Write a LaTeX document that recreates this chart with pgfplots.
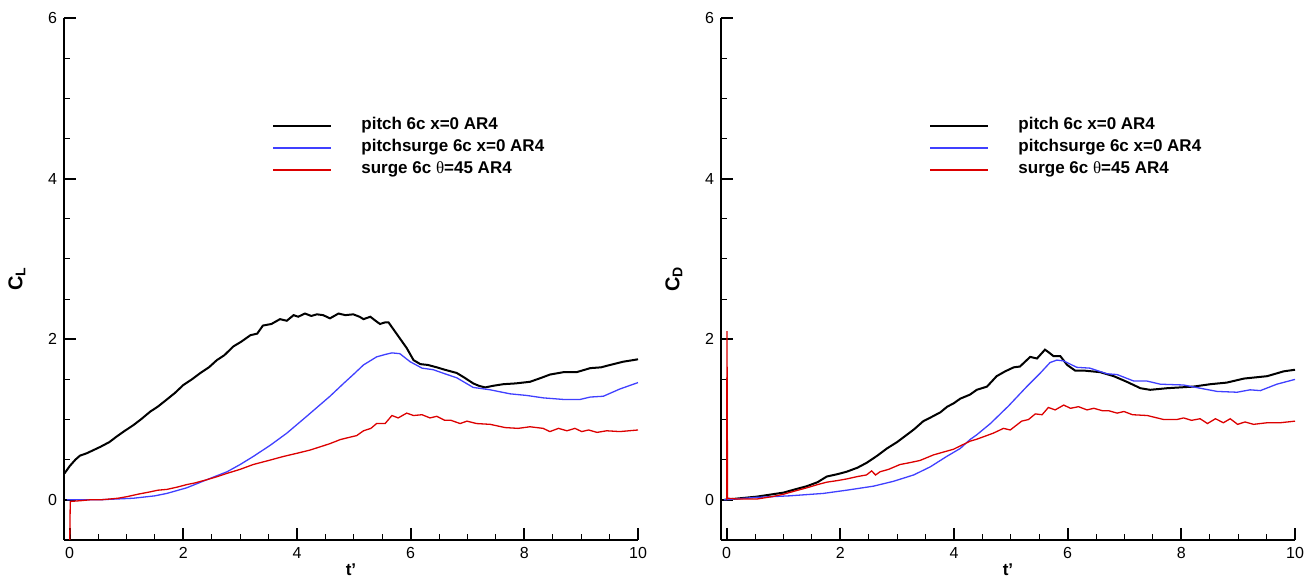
\documentclass[border=0pt]{standalone}
\usepackage{fontspec}
\setmainfont{Liberation Sans}
\newfontfamily\serif{Liberation Serif}
\usepackage{pgfplots}
\pgfplotsset{compat=1.18}
\definecolor{cblue}{RGB}{64,64,255}
\definecolor{cred}{RGB}{220,0,0}
\pgfplotsset{
 myax/.style={
  width=287pt, height=261pt, scale only axis,
  xmin=-0.1, xmax=10, ymin=-0.5, ymax=6,
  axis x line=bottom, axis y line=left,
  axis line style={-, line width=1pt},
  xtick={0,2,4,6,8,10}, ytick={0,2,4,6},
  minor x tick num=3, minor y tick num=3,
  tick align=inside,
  major tick length=6pt, minor tick length=3pt,
  major tick style={line width=1pt, black},
  minor tick style={line width=0.5pt, black},
  /pgf/number format/assume math mode=true,
  tick label style={font=\fontsize{8}{9}\selectfont},
  every axis x label/.style={at={(axis description cs:0.5,0)}, anchor=north, yshift=-11.5pt, inner sep=0pt, font=\fontsize{8.5}{10}\selectfont\bfseries},
  every axis y label/.style={at={(axis description cs:0,0.5)}, xshift=-23.5pt, rotate=90, anchor=center, font=\fontsize{10}{11}\selectfont\bfseries},
  legend style={draw=none, fill=none, at={(axis cs:3.56,4.785)}, anchor=north west, inner sep=0pt, row sep=1pt,
    font=\fontsize{8.5}{10}\selectfont\bfseries, nodes={inner sep=0pt, text height=7pt, text depth=3pt}},
  legend cell align=left,
  legend image code/.code={\draw[#1] (0pt,0pt) -- (29pt,0pt); \path[draw=none] (0pt,0pt) -- (44pt,0pt);},
 },
 pitch/.style={black, line width=1pt},
 psurge/.style={cblue, line width=0.65pt},
 surge/.style={cred, line width=0.65pt},
}
\begin{document}
\begin{tikzpicture}
\useasboundingbox (0,0) rectangle (655pt,288.5pt);
\begin{axis}[myax, at={(32pt,18.5pt)}, anchor=south west, xlabel={t'}, ylabel={C\textsubscript{L}}]
\addplot[pitch] table {
-0.09 0.33
0.0 0.42
0.1 0.50
0.18 0.55
0.3 0.58
0.45 0.63
0.54 0.66
0.7 0.72
0.83 0.79
0.95 0.85
1.12 0.93
1.25 1.00
1.42 1.10
1.55 1.16
1.71 1.25
1.85 1.33
2.00 1.43
2.15 1.50
2.30 1.58
2.45 1.65
2.59 1.74
2.72 1.80
2.88 1.91
3.02 1.97
3.18 2.05
3.30 2.07
3.40 2.17
3.55 2.19
3.70 2.25
3.82 2.23
3.94 2.30
4.02 2.28
4.14 2.32
4.25 2.29
4.35 2.31
4.46 2.30
4.58 2.26
4.73 2.32
4.85 2.30
4.99 2.31
5.10 2.28
5.17 2.25
5.29 2.28
5.40 2.22
5.46 2.19
5.55 2.21
5.61 2.21
5.70 2.12
5.81 2.01
5.93 1.89
6.05 1.74
6.17 1.69
6.30 1.68
6.46 1.65
6.60 1.62
6.81 1.58
6.95 1.52
7.10 1.45
7.20 1.42
7.31 1.40
7.45 1.42
7.63 1.44
7.85 1.45
8.10 1.47
8.30 1.52
8.45 1.56
8.69 1.59
8.92 1.59
9.16 1.64
9.35 1.65
9.51 1.68
9.74 1.72
10.0 1.75
};
\addlegendentry{pitch 6c x=0 AR4}
\addplot[psurge] table {
-0.05 0.0
0.5 0.0
1.12 0.02
1.5 0.05
1.71 0.08
2.06 0.15
2.41 0.25
2.77 0.35
3.0 0.44
3.23 0.54
3.53 0.68
3.82 0.83
4.17 1.04
4.58 1.29
4.82 1.45
4.99 1.56
5.17 1.68
5.40 1.78
5.55 1.81
5.67 1.83
5.81 1.82
5.99 1.72
6.20 1.64
6.40 1.62
6.60 1.57
6.81 1.52
7.10 1.40
7.40 1.37
7.75 1.32
8.04 1.30
8.33 1.27
8.69 1.25
8.98 1.25
9.16 1.28
9.39 1.29
9.68 1.38
10.0 1.46
};
\addlegendentry{pitchsurge 6c x=0 AR4}
\addplot[surge] table {
0.0 -0.6
0.01 -0.02
0.2 -0.01
0.35 0.0
0.54 0.0
0.7 0.01
0.85 0.02
1.01 0.04
1.2 0.07
1.42 0.10
1.55 0.12
1.71 0.13
1.9 0.16
2.06 0.19
2.2 0.21
2.41 0.25
2.6 0.29
2.77 0.33
3.0 0.38
3.23 0.44
3.5 0.49
3.76 0.54
4.0 0.58
4.23 0.62
4.45 0.67
4.58 0.70
4.76 0.75
4.93 0.78
5.05 0.80
5.17 0.86
5.30 0.89
5.40 0.95
5.55 0.95
5.67 1.05
5.78 1.02
5.93 1.08
6.05 1.05
6.20 1.06
6.34 1.02
6.46 1.04
6.60 0.99
6.71 0.99
6.87 0.95
6.99 0.98
7.16 0.95
7.40 0.94
7.66 0.90
7.89 0.89
8.10 0.91
8.33 0.89
8.45 0.85
8.60 0.89
8.75 0.86
8.89 0.89
9.01 0.85
9.13 0.87
9.28 0.84
9.45 0.86
9.68 0.85
10.0 0.87
};
\addlegendentry{surge 6c {\serif\mdseries θ}=45 AR4}
\end{axis}
\begin{axis}[myax, at={(360.5pt,18.5pt)}, anchor=south west, xlabel={t'}, ylabel={C\textsubscript{D}}]
\addplot[pitch] table {
-0.05 0.0
0.53 0.04
1.0 0.09
1.2 0.13
1.41 0.17
1.6 0.22
1.76 0.29
1.95 0.32
2.11 0.35
2.3 0.40
2.46 0.46
2.65 0.55
2.82 0.64
3.0 0.72
3.17 0.81
3.3 0.88
3.46 0.98
3.6 1.03
3.76 1.09
3.88 1.16
3.99 1.20
4.11 1.26
4.28 1.31
4.40 1.37
4.58 1.41
4.75 1.54
4.9 1.60
5.05 1.65
5.16 1.66
5.34 1.78
5.46 1.76
5.60 1.87
5.66 1.84
5.75 1.79
5.87 1.79
5.99 1.68
6.13 1.61
6.28 1.61
6.57 1.59
6.81 1.54
7.04 1.47
7.28 1.39
7.45 1.37
7.75 1.39
8.21 1.41
8.51 1.44
8.80 1.46
9.10 1.51
9.51 1.54
9.80 1.60
10.0 1.62
};
\addlegendentry{pitch 6c x=0 AR4}
\addplot[psurge] table {
-0.05 0.0
0.5 0.03
1.11 0.05
1.70 0.08
2.11 0.12
2.58 0.17
2.93 0.23
3.29 0.31
3.58 0.41
3.87 0.54
4.11 0.64
4.28 0.75
4.40 0.81
4.64 0.95
4.96 1.17
5.28 1.41
5.52 1.58
5.69 1.71
5.81 1.74
5.93 1.73
6.16 1.65
6.39 1.64
6.69 1.57
6.87 1.56
7.16 1.48
7.39 1.48
7.63 1.44
8.04 1.43
8.33 1.39
8.63 1.35
8.98 1.34
9.21 1.37
9.39 1.36
9.68 1.44
10.0 1.50
};
\addlegendentry{pitchsurge 6c x=0 AR4}
\addplot[surge] table {
0.0 0.0
0.005 2.1
0.015 0.02
0.2 0.01
0.53 0.01
0.8 0.04
1.0 0.07
1.2 0.11
1.41 0.15
1.6 0.19
1.76 0.22
1.95 0.24
2.11 0.26
2.3 0.29
2.46 0.31
2.55 0.36
2.62 0.31
2.70 0.35
2.85 0.38
3.05 0.44
3.2 0.46
3.40 0.49
3.64 0.56
3.99 0.63
4.28 0.73
4.40 0.755
4.69 0.83
4.87 0.89
4.99 0.87
5.19 0.98
5.31 1.00
5.43 1.07
5.55 1.06
5.66 1.15
5.78 1.12
5.93 1.18
6.05 1.14
6.19 1.16
6.34 1.12
6.46 1.14
6.61 1.11
6.72 1.11
6.87 1.08
6.99 1.10
7.14 1.06
7.40 1.05
7.69 1.00
7.92 1.00
8.04 1.02
8.18 0.99
8.33 1.01
8.46 0.95
8.60 1.01
8.74 0.96
8.86 1.01
8.99 0.94
9.12 0.97
9.27 0.94
9.51 0.96
9.74 0.96
10.0 0.98
};
\addlegendentry{surge 6c {\serif\mdseries θ}=45 AR4}
\end{axis}
\end{tikzpicture}
\end{document}
